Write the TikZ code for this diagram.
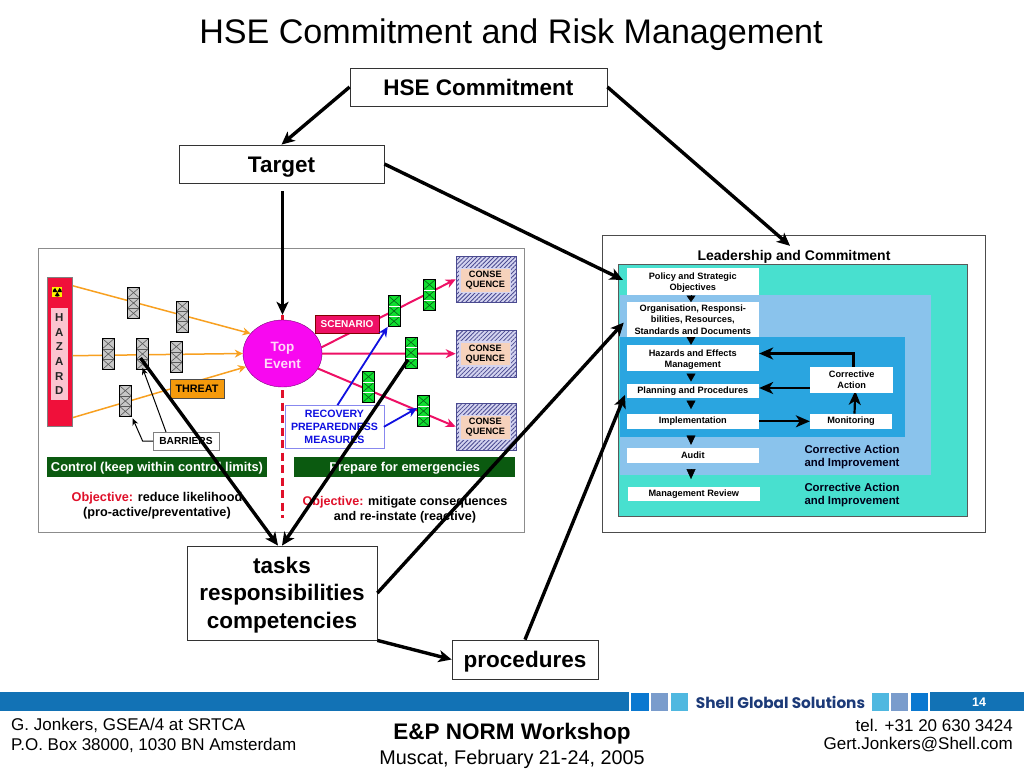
\documentclass[tikz,border=0pt]{standalone}
\usepackage{fontspec}
\setmainfont{Liberation Sans}
\newfontfamily\shellfont{Poppins}
\usetikzlibrary{arrows.meta,patterns.meta,shapes.geometric}
\definecolor{teal1}{HTML}{48E0CF}
\definecolor{lblue}{HTML}{8AC3EC}
\definecolor{mblue}{HTML}{2AA5E0}
\definecolor{band}{HTML}{1272B5}
\definecolor{sq1}{HTML}{0A78D0}
\definecolor{sq2}{HTML}{7A9CCC}
\definecolor{sq3}{HTML}{4FB8E0}
\definecolor{dgreen}{HTML}{0B5A10}
\definecolor{oarrow}{HTML}{F8A020}
\definecolor{parrow}{HTML}{EE1065}
\definecolor{objred}{HTML}{E0102A}
\definecolor{recblue}{HTML}{1010E0}
\definecolor{peach}{HTML}{F6D2BC}
\definecolor{lav}{HTML}{D4D4F0}
\definecolor{hatchc}{HTML}{4A4A90}
\definecolor{hazred}{HTML}{F0103A}
\definecolor{hazpink}{HTML}{FBC4D0}
\definecolor{evmag}{HTML}{F808F0}
\definecolor{evtext}{HTML}{FFD8F8}
\definecolor{thr}{HTML}{F59A0C}
\definecolor{yel}{HTML}{FFF000}
\definecolor{grn}{HTML}{10E030}
\definecolor{grnd}{HTML}{0A5A1A}
\definecolor{shellc}{HTML}{1C3A78}
\newcommand{\fs}[1]{\fontsize{#1}{#1}\selectfont}
\newcommand{\fsl}[2]{\fontsize{#1}{#2}\selectfont}
\pgfdeclarelayer{panel}
\pgfdeclarelayer{conn}
\pgfdeclarelayer{over}
\pgfsetlayers{panel,conn,main,over}
\tikzset{
  capc/.style={text height=#1,text depth=0pt},
  box/.style={draw=black!80,fill=white,line width=0.8pt,inner sep=0pt,align=center,font=\fs{22.5}\bfseries},
  frame/.style={fill=white,line width=0.8pt,inner sep=0pt},
  wbox/.style={fill=white,inner sep=0pt,align=center,font=\fsl{9.2}{11.2}\bfseries,text=black},
  panelbox/.style={inner sep=0pt,outer sep=0pt},
  bigarrow/.style={line width=3.4pt,-{Stealth[length=13pt,width=12pt,inset=3.5pt]},black},
  smallhead/.style={line width=2.2pt,-{Stealth[length=14pt,width=12pt,inset=4pt]},black},
  downhead/.style={line width=0.4pt,-{Triangle[length=#1,width=9pt]},black},
  oarr/.style={oarrow,line width=1.5pt,-{Stealth[length=8pt,width=8pt]}},
  parr/.style={parrow,line width=2pt,-{Stealth[length=10pt,width=9pt]}},
  barr/.style={recblue,line width=1.8pt,-{Stealth[length=10pt,width=9pt]}},
  thinarr/.style={black,line width=1pt,-{Stealth[length=7pt,width=6pt]}},
  crossbar/.style n args={3}{draw=black,fill=#1,line width=0.6pt,inner sep=0pt,minimum width=12pt,minimum height=31pt,
    path picture={
      \foreach \yy in {-15.5,-5.17,5.17}{
        \draw[#2,line width=0.6pt]
          ([shift={(-6,\yy)}]path picture bounding box.center) -- ([shift={(6,\yy+10.33)}]path picture bounding box.center)
          ([shift={(6,\yy)}]path picture bounding box.center) -- ([shift={(-6,\yy+10.33)}]path picture bounding box.center);
      }
      \foreach \yy in {-5.17,5.17}{
        \draw[#3,line width=0.6pt]
          ([shift={(-6,\yy)}]path picture bounding box.center) -- ([shift={(6,\yy)}]path picture bounding box.center);
      }
    }},
  graybar/.style={crossbar={black!22}{black!65}{black!65}},
  greenbar/.style={crossbar={grn}{grnd}{white}},
  conshatch/.style={draw=hatchc,preaction={fill=lav},pattern={Lines[angle=45,distance=3pt,line width=0.8pt]},pattern color=hatchc,line width=0.7pt,minimum width=60.5pt,minimum height=46.5pt,inner sep=0pt},
  conspeach/.style={fill=peach,draw=lav,line width=1.4pt,inner sep=0pt,minimum width=50.5pt,minimum height=24pt,align=center,font=\fsl{9.2}{10.2}\bfseries},
  greenlabel/.style={fill=dgreen,text=white,inner sep=0pt,minimum height=20pt,font=\fs{12.85}\bfseries,capc=9.25pt},
  bodytext/.style={inner sep=0pt,align=center},
  foot/.style={inner sep=0pt,font=\fs{17}},
  sq/.style={fill=#1,inner sep=0pt,minimum width=17.5pt,minimum height=18.5pt},
}
\begin{document}
\begin{tikzpicture}[x=1pt,y=-1pt]
\useasboundingbox (0,0) rectangle (1024,768);

\node[inner sep=0pt,font=\fs{34.1},capc=24.6pt] (title) at (511,31.5) {HSE Commitment and Risk Management};
\node[box,capc=16.2pt,minimum width=257pt,minimum height=38pt] (hse) at (478.5,87) {HSE Commitment};
\node[box,capc=16.2pt,minimum width=205pt,minimum height=38pt] (target) at (281.5,164) {Target};
\node[box,font=\fsl{22.5}{27.3}\bfseries,minimum width=190pt,minimum height=94pt] (tasks) at (282,593) {\rule{0pt}{20.4pt}tasks\\responsibilities\\competencies};
\node[box,capc=16.2pt,minimum width=146pt,minimum height=39pt] (proc) at (525,659.5) {procedures};

% panels
\begin{pgfonlayer}{panel}
\node[frame,draw=black!45,minimum width=486pt,minimum height=284pt] (leftframe) at (281,390) {};
\node[frame,draw=black!70,minimum width=383pt,minimum height=297pt] (rightframe) at (793.5,383.5) {};
\node[panelbox,fill=teal1,draw=black!65,line width=0.8pt,minimum width=349.4pt,minimum height=251.7pt] (pteal) at (793,390.2) {};
\node[panelbox,fill=lblue,minimum width=311pt,minimum height=180pt] (plight) at (775.5,385) {};
\node[panelbox,fill=mblue,minimum width=285pt,minimum height=100pt] (pmid) at (762.5,386.7) {};
\end{pgfonlayer}

% left side
\node[draw=black!50,fill=hazred,inner sep=0pt,minimum width=25.6pt,minimum height=149pt] (haz) at (59.5,351.8) {};
\node[fill=hazpink,inner sep=0pt,minimum width=16.7pt,minimum height=91.7pt,align=center,font=\fsl{11.5}{14.6}\bfseries,text=black!85] (hazt) at (59.4,354.2) {H\\A\\Z\\A\\R\\D};
\node[fill=yel,inner sep=0pt,minimum width=10pt,minimum height=10.6pt] (rad) at (57.3,292) {};
\foreach \a in {90,210,330}{
  \fill[black] (rad.center) -- ++(\a-32:4.6) arc (\a-32:\a+32:4.6) -- cycle;
}
\node[graybar] (b1) at (133.5,303) {};
\node[graybar] (b2) at (182.3,316.5) {};
\node[graybar] (b3) at (108.3,354) {};
\node[graybar] (b4) at (142.5,354) {};
\node[graybar] (b5) at (176.3,357) {};
\node[graybar] (b6) at (125.3,401) {};
\node[ellipse,draw=black!50!evmag,fill=evmag,inner sep=0pt,minimum width=79pt,minimum height=67pt,align=center,text=evtext,font=\fsl{13.5}{17.5}\bfseries] (event) at (282.5,353.5) {\rule{0pt}{13.5pt}Top\\Event};
\node[draw=black!70,fill=thr,inner sep=0pt,minimum width=53.4pt,minimum height=18.4pt,font=\fs{10.8}\bfseries,capc=7.8pt] (threat) at (197,388.5) {THREAT};
\node[draw=black!50,fill=white,inner sep=0pt,minimum width=65.4pt,minimum height=17.7pt,font=\fs{10.2}\bfseries,capc=7.3pt] (barriers) at (186,441) {BARRIERS};
\node[greenlabel,minimum width=220.6pt] (control) at (157,466.7) {Control (keep within control limits)};
\node[bodytext,font=\fsl{12.7}{15.4}\bfseries] (obj1) at (157,506) {{\color{objred}Objective:} reduce likelihood\\(pro-active/preventative)};

% right of left frame
\node[greenbar] (g1) at (429.5,295) {};
\node[greenbar] (g2) at (394,311) {};
\node[greenbar] (g3) at (411,352.7) {};
\node[greenbar] (g4) at (368.5,387) {};
\node[greenbar] (g5) at (423.5,411) {};
\node[fill=parrow,draw=black!50!red,inner sep=0pt,minimum width=63.4pt,minimum height=17.4pt,text=white,font=\fs{10}\bfseries,capc=7.2pt] (scen) at (347,324) {SCENARIO};
\node[draw=recblue!50,fill=white,inner sep=0pt,minimum width=98.4pt,minimum height=43pt,align=center,text=recblue,font=\fsl{10.6}{12.7}\bfseries] (rec) at (334.5,426.8) {RECOVERY\\PREPAREDNESS\\MEASURES};
\foreach \n/\yy in {1/279.3,2/353.7,3/426.7}{
  \node[conshatch] (cons\n) at (486.3,\yy) {};
}
\node[conspeach] (ct1) at (485.3,280.3) {CONSE\\QUENCE};
\node[conspeach] (ct2) at (485.3,354) {CONSE\\QUENCE};
\node[conspeach] (ct3) at (485.3,427.2) {CONSE\\QUENCE};
\node[greenlabel,minimum width=221pt] (prepare) at (404.8,466.7) {Prepare for emergencies};
\node[bodytext,font=\fsl{12.6}{15.4}\bfseries] (obj2) at (405,509.5) {{\color{objred}Objective:} mitigate consequences\\and re-instate (reactive)};

% right panel
\node[inner sep=0pt,font=\fs{14}\bfseries,capc=10pt] (lead) at (794,255) {Leadership and Commitment};
\node[wbox,minimum width=132.3pt,minimum height=26.7pt] (policy) at (692.8,281.6) {\rule{0pt}{9.5pt}Policy and Strategic\\Objectives};
\node[wbox,minimum width=132.3pt,minimum height=34.7pt] (org) at (692.8,319.6) {Organisation, Responsi-\\bilities, Resources,\\Standards and Documents};
\node[wbox,minimum width=132.3pt,minimum height=26pt] (hem) at (692.8,358) {\rule{0pt}{9.5pt}Hazards and Effects\\Management};
\node[wbox,minimum width=132.3pt,minimum height=14.3pt] (plan) at (692.8,391.2) {Planning and Procedures};
\node[wbox,minimum width=132.3pt,minimum height=14.7pt] (impl) at (692.8,421.3) {Implementation};
\node[wbox,minimum width=132.3pt,minimum height=14.4pt] (audit) at (692.8,455.5) {Audit};
\node[wbox,minimum width=131.7pt,minimum height=14pt] (mgmt) at (693.8,493.7) {Management Review};
\node[wbox,minimum width=83.3pt,minimum height=26pt] (corr) at (851.7,379.7) {Corrective\\Action};
\node[wbox,minimum width=82pt,minimum height=15pt] (mon) at (851,421.3) {Monitoring};
\node[inner sep=0pt,align=center,font=\fsl{11.4}{13.7}\bfseries,text=black!90!blue] (ca1) at (852,457) {Corrective Action\\and Improvement};
\node[inner sep=0pt,align=center,font=\fsl{11.4}{13.7}\bfseries,text=black!90!blue] (ca2) at (852,495) {Corrective Action\\and Improvement};

% footer
\fill[band] (0,692.3) rectangle (629,711);
\fill[band] (930,692.3) rectangle (1024,711);
\node[sq=sq1] (s1) at (640,702) {};
\node[sq=sq2] (s2) at (659.7,702) {};
\node[sq=sq3] (s3) at (679.7,702) {};
\node[sq=sq3] (s4) at (880.5,702) {};
\node[sq=sq2] (s5) at (899.7,702) {};
\node[sq=sq1] (s6) at (919.5,702) {};
\node[inner sep=0pt,font=\shellfont\fs{15.3}\bfseries,text=shellc] (shell) at (780.5,702) {Shell Global Solutions};
\node[inner sep=0pt,text=white,font=\fs{12.5}\bfseries] (pg) at (979,702) {14};
\node[foot,anchor=west] (fl1) at (11,725) {G. Jonkers, GSEA/4 at SRTCA};
\node[foot,anchor=west] (fl2) at (11,745) {P.O. Box 38000, 1030 BN Amsterdam};
\node[foot,anchor=east] (fr1) at (1013,725) {tel. +31 20 630 3424};
\node[foot,anchor=east] (fr2) at (1013,745) {Gert.Jonkers@Shell.com};
\node[inner sep=0pt,font=\fs{22.5}\bfseries,capc=16.2pt] (fc1) at (512,731) {E\&P NORM Workshop};
\node[inner sep=0pt,font=\fs{19.8},capc=14.3pt] (fc2) at (512,757) {Muscat, February 21-24, 2005};

% connectors below nodes
\begin{pgfonlayer}{conn}
\coordinate (h1) at (72.5,285.7);
\coordinate (h2) at (72.5,355.7);
\coordinate (h3) at (72.5,417.7);
\draw[oarr] (h1) -- (event.148);
\draw[oarr] (h2) -- (event.west);
\draw[oarr] (h3) -- (event.200);
\draw[parr] (event.9) -- (cons1.west);
\draw[parr] (event.east) -- (cons2.west);
\draw[parr] (event.-23) -- (cons3.west);
\draw[objred,line width=2.4pt,dash pattern=on 8pt off 4.5pt] ([yshift=-3pt]event.south) -- ++(0,128);
\draw[objred,line width=2.4pt] (event.north) -- ++(0,-5);
\coordinate (colx) at (691,0);
\draw[downhead=6.5pt] (colx |- policy.south) -- (colx |- org.north);
\draw[downhead=8pt] (colx |- org.south) -- (colx |- hem.north);
\draw[downhead=8pt,shorten <=2.7pt,shorten >=2.3pt] (colx |- hem.south) -- (colx |- plan.north);
\draw[downhead=8.5pt,shorten <=2.4pt,shorten >=4.7pt] (colx |- plan.south) -- (colx |- impl.north);
\draw[downhead=9.3pt,shorten <=7pt,shorten >=3.3pt] (colx |- impl.south) -- (colx |- audit.north);
\draw[downhead=10pt,shorten <=6.6pt,shorten >=7.4pt] (colx |- audit.south) -- (colx |- mgmt.north);
\coordinate (corrup) at (853.5,353.5);
\draw[smallhead] ([xshift=1.8pt]corr.north) -- (corrup) -- (hem.east |- corrup);
\coordinate (corrl) at (corr.west |- 0,388);
\draw[smallhead] (corrl) -- (plan.east |- corrl);
\draw[smallhead] (impl.east) -- (mon.west);
\draw[smallhead,shorten >=-2pt] ([xshift=3.5pt]mon.north) -- ([xshift=3.5pt]corr.south);
\end{pgfonlayer}
\draw[barr] ([xshift=3pt]rec.north) -- (g2.south west);
\draw[barr] (rec.east) -- ([yshift=3pt]g5.west);
\draw[thinarr] (barriers.west) -- ++(-10.5,0) -- ([shift={(1,1.5)}]b6.south east);
\draw[thinarr] ([xshift=-20pt]barriers.north) -- ([yshift=2pt]b4.south);

% big black connectors on top
\begin{pgfonlayer}{over}
\draw[bigarrow] (hse.west) -- (target.north);
\draw[bigarrow] (hse.east) -- ([shift={(-4,-4)}]lead.north);
\draw[bigarrow,shorten >=4pt] (target.east) -- (policy.west);
\draw[bigarrow,shorten <=8pt,shorten >=5pt] (event.north |- target.south) -- (event.north);
\draw[bigarrow] ([shift={(-2,4)}]b4.center) -- ([xshift=-4pt]tasks.north);
\draw[bigarrow] ([shift={(-3,7)}]g3.center) -- ([xshift=0pt]tasks.north);
\draw[bigarrow,shorten >=4pt] (tasks.east) -- (org.west);
\draw[bigarrow] (tasks.south east) -- (proc.west);
\draw[bigarrow,shorten >=4pt] (proc.north) -- (plan.west);
\end{pgfonlayer}
\end{tikzpicture}
\end{document}
